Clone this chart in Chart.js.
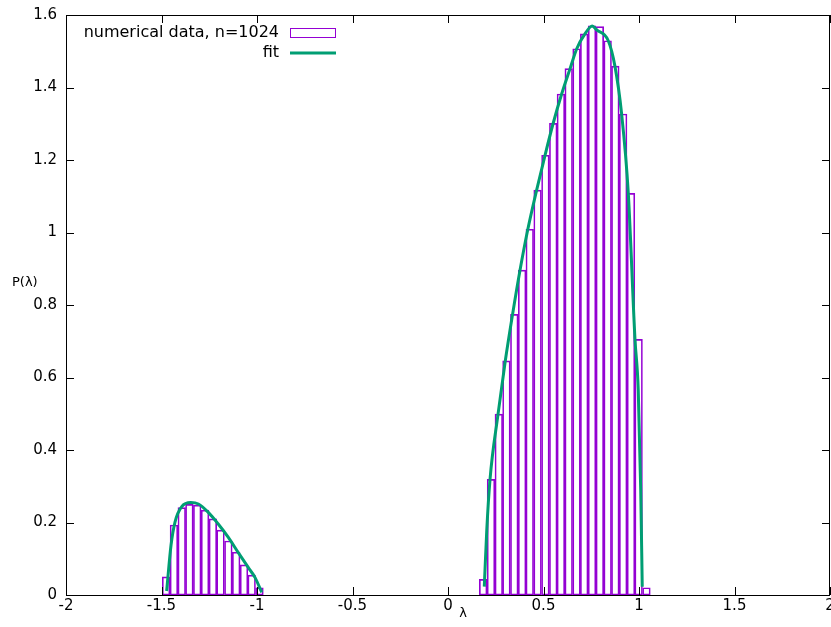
<!DOCTYPE html>
<html>
<head>
<meta charset="utf-8">
<script src="https://cdn.jsdelivr.net/npm/chart.js@4.4.1/dist/chart.umd.min.js"></script>
<style>
  html, body { margin: 0; padding: 0; background: #fff; }
  #wrap { width: 831px; height: 627px; }
</style>
</head>
<body>
<div id="wrap"><canvas id="histChart"></canvas></div>
<script>
// --- data ---
// histogram bin centres and heights, lower band
const lowerBinX = [-1.476, -1.435, -1.394, -1.354, -1.313, -1.272, -1.231, -1.191, -1.150, -1.109, -1.068, -1.028, -0.987];
const lowerBinP = [0.050, 0.193, 0.241, 0.250, 0.248, 0.234, 0.210, 0.179, 0.149, 0.118, 0.083, 0.055, 0.020];
// upper band
const upperBinX = [0.184, 0.225, 0.266, 0.306, 0.347, 0.388, 0.428, 0.469, 0.510, 0.551, 0.591,
                   0.632, 0.673, 0.713, 0.754, 0.795, 0.836, 0.876, 0.917, 0.958, 0.998, 1.039];
const upperBinP = [0.043, 0.319, 0.499, 0.646, 0.774, 0.896, 1.009, 1.117, 1.213, 1.301, 1.382,
                   1.452, 1.507, 1.548, 1.570, 1.568, 1.529, 1.459, 1.327, 1.108, 0.705, 0.020];

// fitted curve
const fitLowerX = [-1.473, -1.450, -1.429, -1.394, -1.346, -1.307, -1.255, -1.203, -1.150, -1.098, -1.046, -1.010, -0.975];
const fitLowerP = [0.011, 0.138, 0.202, 0.244, 0.255, 0.251, 0.228, 0.196, 0.159, 0.117, 0.076, 0.048, 0.007];
const fitUpperX = [0.190, 0.203, 0.220, 0.262, 0.300, 0.338, 0.377, 0.418, 0.464, 0.508, 0.550, 0.595,
                   0.639, 0.674, 0.717, 0.755, 0.778, 0.839, 0.874, 0.909, 0.944, 0.979, 0.996, 1.009, 1.017];
const fitUpperP = [0.023, 0.179, 0.319, 0.499, 0.646, 0.774, 0.896, 1.009, 1.117, 1.213, 1.300, 1.382,
                   1.452, 1.507, 1.548, 1.570, 1.559, 1.529, 1.459, 1.327, 1.108, 0.705, 0.566, 0.290, 0.023];

const xTickLabels = ['-2', '-1.5', '-1', '-0.5', '0', '0.5', '1', '1.5', '2'];
const yTickLabels = ['0', '0.2', '0.4', '0.6', '0.8', '1', '1.2', '1.4', '1.6'];

const histLabel = 'numerical data, n=1024';
const fitLabel = 'fit';
const xTitle = 'λ';
const yTitle = 'P(λ)';

const histColor = '#9400d3';
const fitColor = '#009e73';

// build {x,y} points for the library
const histPoints = lowerBinX.map((x, i) => ({ x: x, y: lowerBinP[i] }))
    .concat(upperBinX.map((x, i) => ({ x: x, y: upperBinP[i] })));
// null point splits the fit into its two bands
const fitPoints = fitLowerX.map((x, i) => ({ x: x, y: fitLowerP[i] }))
    .concat([{ x: -0.4, y: null }])
    .concat(fitUpperX.map((x, i) => ({ x: x, y: fitUpperP[i] })));

Chart.defaults.font.family = "'DejaVu Sans', sans-serif";
Chart.defaults.font.size = 15;
Chart.defaults.color = '#000';

// gnuplot style frame: border box, inward mirrored ticks, axis labels and key
const gnuplotFrame = {
    id: 'gnuplotFrame',
    afterDatasetsDraw(chart) {
        const ctx = chart.ctx;
        const a = chart.chartArea;
        const xs = chart.scales.x;
        const ys = chart.scales.y;
        const tick = 8;
        ctx.save();
        ctx.strokeStyle = '#000';
        ctx.lineWidth = 1;
        ctx.beginPath();
        xs.ticks.forEach(t => {
            const px = Math.round(xs.getPixelForValue(t.value)) + 0.5;
            ctx.moveTo(px, a.bottom); ctx.lineTo(px, a.bottom - tick);
            ctx.moveTo(px, a.top); ctx.lineTo(px, a.top + tick);
        });
        ys.ticks.forEach(t => {
            const py = Math.round(ys.getPixelForValue(t.value)) + 0.5;
            ctx.moveTo(a.left, py); ctx.lineTo(a.left + tick, py);
            ctx.moveTo(a.right, py); ctx.lineTo(a.right - tick, py);
        });
        ctx.stroke();
        ctx.strokeRect(Math.round(a.left) + 0.5, Math.round(a.top) + 0.5,
                       Math.round(a.right - a.left) - 1, Math.round(a.bottom - a.top));

        // axis titles
        ctx.fillStyle = '#000';
        ctx.font = "13px 'DejaVu Sans', sans-serif";
        ctx.textBaseline = 'middle';
        ctx.textAlign = 'left';
        ctx.fillText(yTitle, 12, 283);
        ctx.textAlign = 'center';
        ctx.fillText(xTitle, 463, 614);

        // key, top left inside the frame
        ctx.font = "16px 'DejaVu Sans', sans-serif";
        ctx.textAlign = 'right';
        ctx.fillText(histLabel, 279, 33);
        ctx.fillText(fitLabel, 279, 53);
        ctx.lineWidth = 1;
        ctx.strokeStyle = histColor;
        ctx.strokeRect(290.5, 28.5, 45, 9);
        ctx.strokeStyle = fitColor;
        ctx.lineWidth = 3;
        ctx.beginPath();
        ctx.moveTo(290, 53); ctx.lineTo(336, 53);
        ctx.stroke();
        ctx.restore();
    }
};

new Chart(document.getElementById('histChart'), {
    data: {
        datasets: [
            {
                type: 'line',
                label: fitLabel,
                data: fitPoints,
                borderColor: fitColor,
                borderWidth: 3,
                pointRadius: 0,
                cubicInterpolationMode: 'monotone',
                spanGaps: false,
                order: 0
            },
            {
                type: 'bar',
                label: histLabel,
                data: histPoints,
                borderColor: histColor,
                backgroundColor: 'rgba(0,0,0,0)',
                borderWidth: 1,
                borderSkipped: false,
                barPercentage: 1,
                categoryPercentage: 1,
                order: 1
            }
        ]
    },
    plugins: [gnuplotFrame],
    options: {
        responsive: true,
        maintainAspectRatio: false,
        animation: false,
        layout: { padding: { left: 0, top: 15, right: 1, bottom: 0 } },
        plugins: {
            legend: { display: false },
            tooltip: { enabled: false }
        },
        scales: {
            x: {
                type: 'linear',
                offset: false,
                min: -2,
                max: 2,
                grid: { display: false, drawTicks: false, tickLength: 0 },
                border: { display: false },
                ticks: {
                    stepSize: 0.5,
                    padding: 2,
                    maxRotation: 0,
                    autoSkip: false,
                    callback: (v, i) => xTickLabels[i]
                },
                afterFit: s => { s.height = 32; s.paddingLeft = 0; s.paddingRight = 0; }
            },
            y: {
                type: 'linear',
                min: 0,
                max: 1.6,
                grid: { display: false, drawTicks: false, tickLength: 0 },
                border: { display: false },
                ticks: {
                    stepSize: 0.2,
                    padding: 9,
                    autoSkip: false,
                    callback: (v, i) => yTickLabels[i]
                },
                afterFit: s => { s.width = 66; s.paddingTop = 0; s.paddingBottom = 0; }
            }
        }
    }
});
</script>
</body>
</html>
